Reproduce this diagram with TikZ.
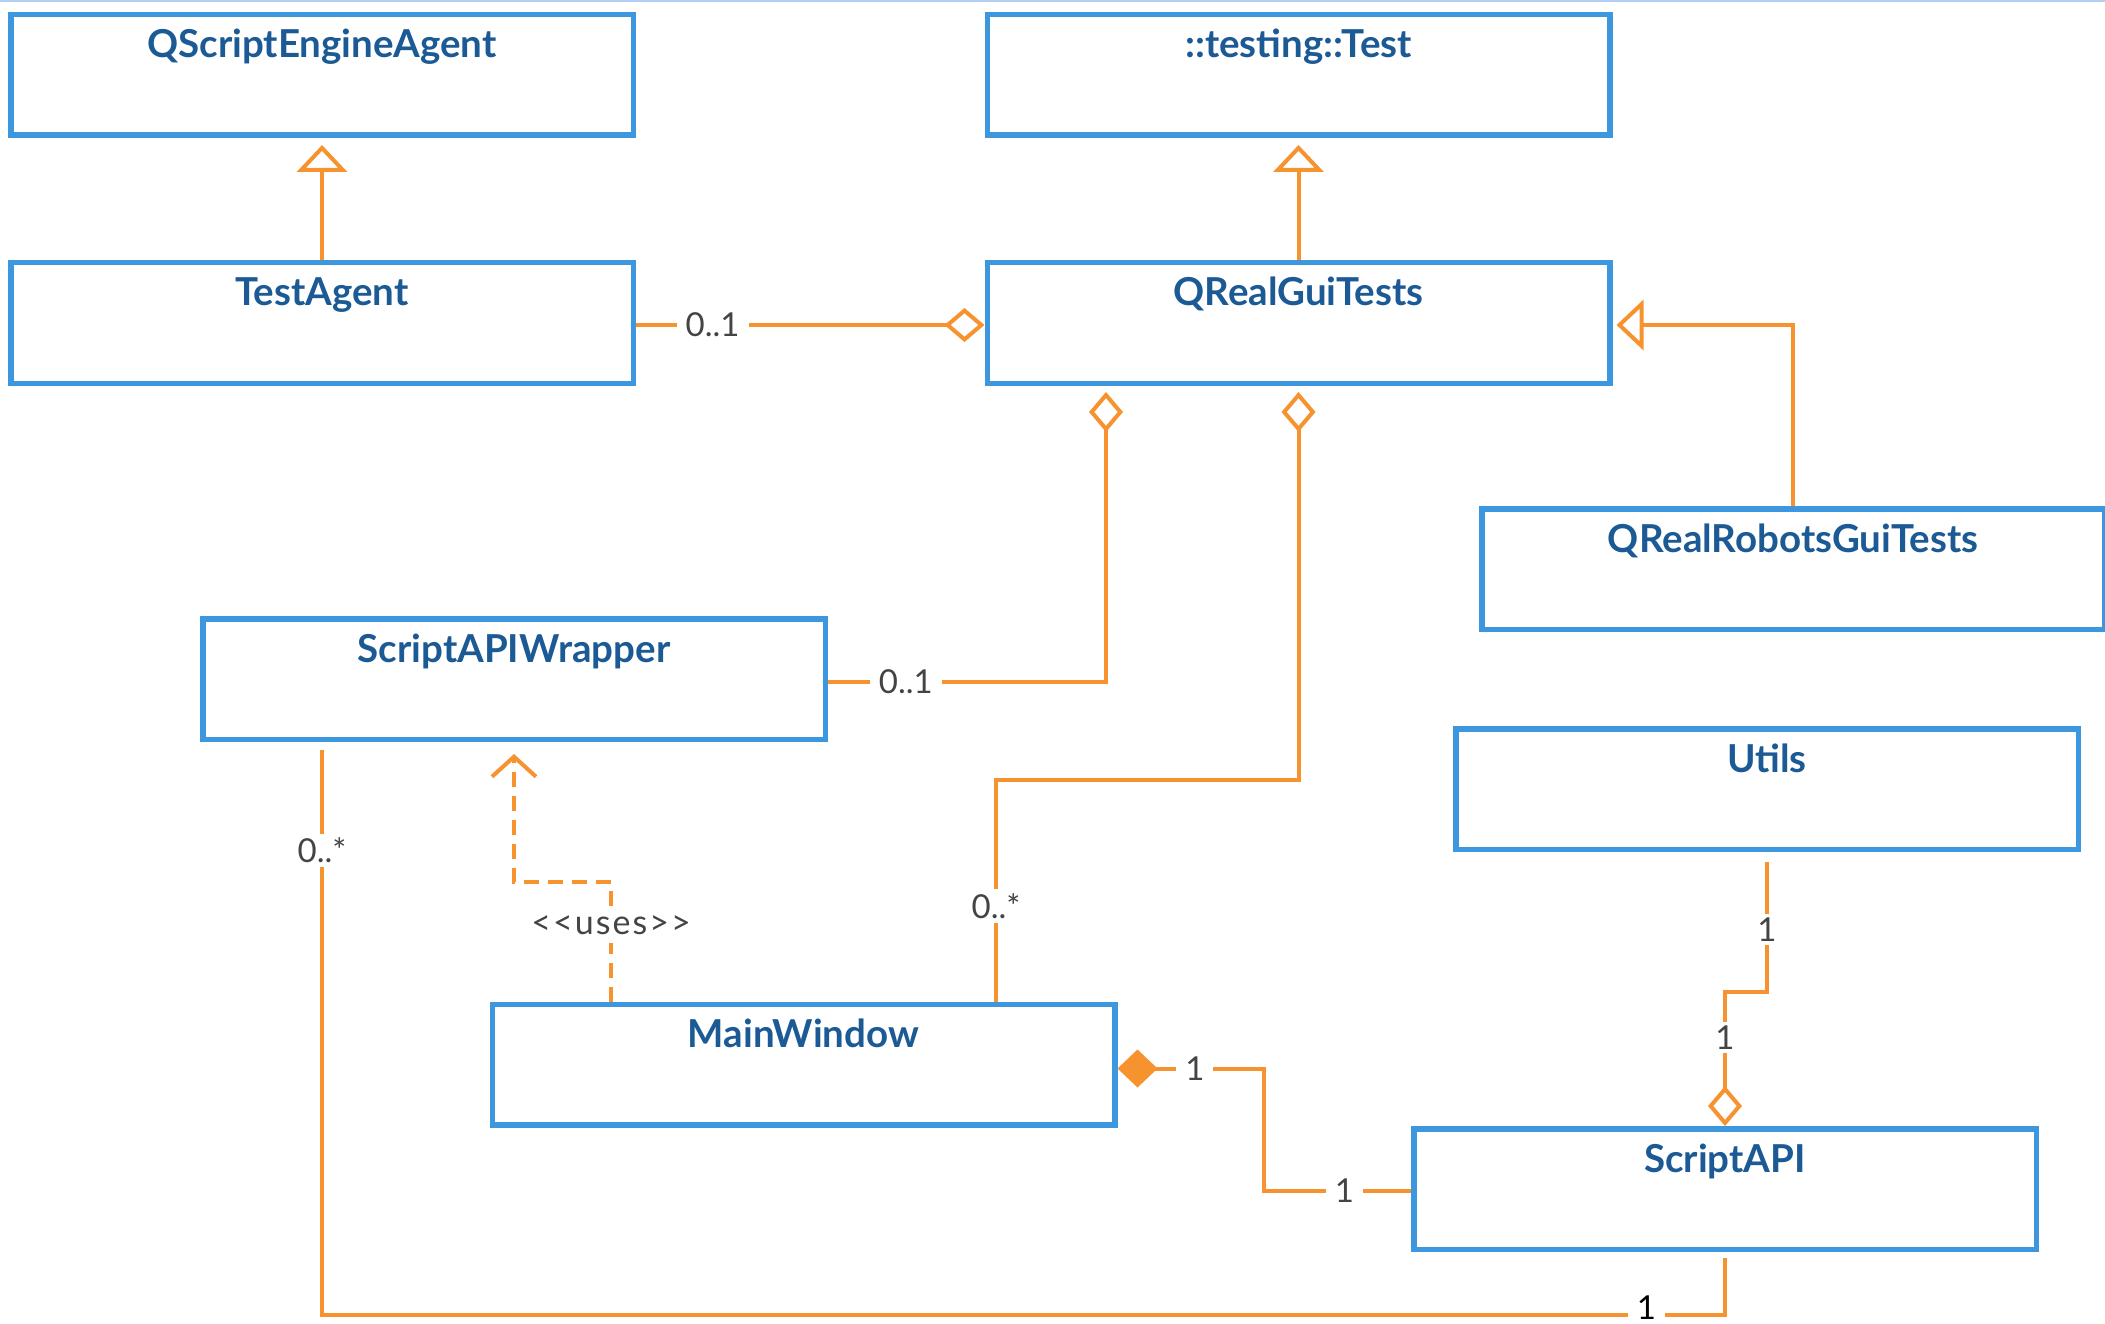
\documentclass[tikz,border=0pt]{standalone}
\usepackage{fontspec}
\setmainfont{Lato}
\newfontfamily\usesfont[LetterSpace=6]{Lato}
\usetikzlibrary{arrows.meta}
\definecolor{boxblue}{HTML}{3D97DE}
\definecolor{titleblue}{HTML}{1B5A94}
\definecolor{orng}{HTML}{F7932F}
\definecolor{lblgray}{HTML}{444444}
\definecolor{topblue}{HTML}{B4CFF5}
\begin{document}
\begin{tikzpicture}[x=1pt,y=-1pt,
  cls/.style={draw=boxblue, line width=5.5pt, fill=white, minimum width=622.5pt,
    minimum height=120.5pt, inner sep=0pt, outer sep=2.75pt},
  ttl/.style={text=titleblue, font=\fontsize{38.5}{42}\selectfont\bfseries,
    inner sep=0pt, anchor=base},
  cline/.style={draw=orng, line width=4pt},
  ml/.style={fill=white, text=lblgray, font=\fontsize{33}{36}\selectfont,
    inner xsep=9pt, inner ysep=4pt},
  gen/.style={cline, -{Triangle[open, length=27pt, width=50pt, line width=4pt, fill=white]}},
  agg/.style={cline, {Diamond[open, length=40pt, width=34pt, line width=4pt, fill=white]}-},
  comp/.style={cline, {Diamond[length=40pt, width=38pt]}-},
  uses/.style={cline, dash pattern=on 15pt off 9pt,
    -{Straight Barb[length=20pt, width=44pt, line width=4pt]}},
]
\useasboundingbox (0,0) rectangle (2105,1324);
\fill[topblue] (0,0) rectangle (2105,2);

% classes
\node[cls] (qsea)  at (322,75)     {};
\node[cls] (test)  at (1298.5,75)  {};
\node[cls] (ta)    at (322,323)    {};
\node[cls] (qgt)   at (1298.5,323) {};
\node[cls] (qrgt)  at (1793,569)   {};
\node[cls] (sapw)  at (514,679)    {};
\node[cls] (utils) at (1767,789)   {};
\node[cls] (mw)    at (803.5,1064.5) {};
\node[cls] (sapi)  at (1725,1189)  {};

% titles
\node[ttl] (qseaT)  at ([yshift=-46pt]qsea.north)  {QScriptEngineAgent};
\node[ttl] (testT)  at ([yshift=-46pt]test.north)  {::testing::Test};
\node[ttl] (taT)    at ([yshift=-46pt]ta.north)    {TestAgent};
\node[ttl] (qgtT)   at ([yshift=-46pt]qgt.north)   {QRealGuiTests};
\node[ttl] (qrgtT)  at ([yshift=-46pt]qrgt.north)  {QRealRobotsGuiTests};
\node[ttl] (sapwT)  at ([yshift=-46pt]sapw.north)  {ScriptAPIWrapper};
\node[ttl] (utilsT) at ([yshift=-46pt]utils.north) {Utils};
\node[ttl] (mwT)    at ([yshift=-46pt]mw.north)    {MainWindow};
\node[ttl] (sapiT)  at ([yshift=-46pt]sapi.north)  {ScriptAPI};

% generalizations
\draw[gen] (ta.north) -- ([yshift=-7pt]qsea.south);
\draw[gen] (qgt.north) -- ([yshift=-7pt]test.south);
\draw[gen] (qrgt.north) |- ([xshift=4pt,yshift=-2pt]qgt.east);

% aggregations to QRealGuiTests
\draw[agg] ([yshift=-2pt]qgt.west) -- node[ml, pos=0.78] (l1) {0..1} ([yshift=-2pt]ta.east);
\draw[agg] ([xshift=-192.5pt, yshift=-6pt]qgt.south) |- node[ml, pos=0.86] (l2) {0..1} ([yshift=-3pt]sapw.east);
\draw[agg] ([yshift=-6pt]qgt.south) |- ([xshift=192.5pt, yshift=222pt]mw.north)
  -- node[ml, pos=0.57] (l3) {0..*} ([xshift=192.5pt]mw.north);

% ScriptAPIWrapper -- ScriptAPI
\coordinate (bot) at ([yshift=-63pt]sapi.south);
\draw[cline] ([xshift=-192pt, yshift=-8pt]sapw.south)
  |- node[ml, pos=0.089] (l4) {0..*} node[ml, pos=0.972, text=black, yshift=7pt, inner ysep=1pt] (l5) {1} (bot)
  -- ([yshift=-6pt]sapi.south);

% uses dependency
\draw[uses] ([xshift=-192.5pt]mw.north) |- node[ml, pos=0.32, inner ysep=8pt, font=\usesfont\fontsize{34}{38}\selectfont] (l6) {<{}<uses>{}>}
  ([yshift=-140pt]sapw.south) -- ([yshift=-12pt]sapw.south);

% composition MainWindow -- ScriptAPI
\draw[comp] ([yshift=-4pt]mw.east) -- node[ml, pos=0.53] (l7) {1} ++(146,0)
  |- node[ml, pos=0.774] (l8) {1} ([yshift=-2pt]sapi.west);

% aggregation ScriptAPI -- Utils
\draw[agg] (sapi.north) -- node[ml, pos=0.66] (l9) {1} ([yshift=134pt]sapi.north)
  -| node[ml, pos=0.74] (l10) {1} ([yshift=-10pt]utils.south);
\end{tikzpicture}
\end{document}
